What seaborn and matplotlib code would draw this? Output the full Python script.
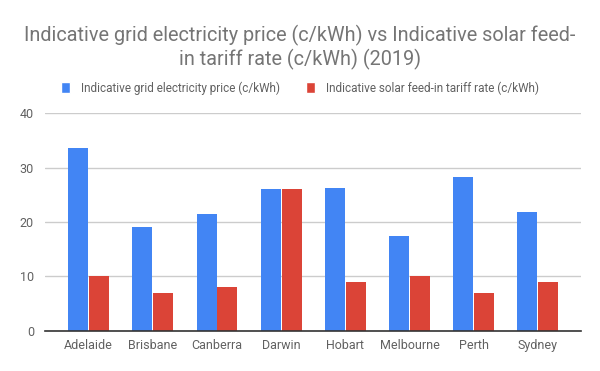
import matplotlib
matplotlib.use("Agg")
import matplotlib.pyplot as plt
import seaborn as sns
import pandas as pd
from matplotlib.patches import Patch

cities = ["Adelaide", "Brisbane", "Canberra", "Darwin", "Hobart", "Melbourne", "Perth", "Sydney"]
grid_price = [33.6, 19.1, 21.5, 26.0, 26.3, 17.5, 28.3, 21.9]
feed_in = [10.0, 7.0, 8.0, 26.0, 9.0, 10.0, 7.0, 9.0]
series_names = ["Indicative grid electricity price (c/kWh)", "Indicative solar feed-in tariff rate (c/kWh)"]
title = "Indicative grid electricity price (c/kWh) vs Indicative solar feed-\nin tariff rate (c/kWh) (2019)"

df = pd.DataFrame({
    "city": cities * 2,
    "value": grid_price + feed_in,
    "series": [series_names[0]] * len(cities) + [series_names[1]] * len(cities),
})

sns.set_theme(style="white")
plt.rcParams["font.family"] = ["Roboto", "DejaVu Sans"]

fig = plt.figure(figsize=(6, 3.71), dpi=100)
ax = fig.add_axes([0.075, 0.108, 0.893, 0.587])
sns.barplot(data=df, x="city", y="value", hue="series", order=cities, hue_order=series_names,
            palette=["#4285F4", "#DB4437"], width=0.65, gap=0.04, saturation=1, ax=ax, legend=False,
            edgecolor="none")

ax.set_xlim(-0.68, 7.67)
ax.set_ylim(0, 40)
ax.set_yticks([0, 10, 20, 30, 40])
ax.yaxis.grid(True, color="#cccccc", linewidth=1)
ax.set_axisbelow(True)
for s in ["top", "right", "left"]:
    ax.spines[s].set_visible(False)
ax.spines["bottom"].set_color("#333333")
ax.spines["bottom"].set_linewidth(1.2)
ax.set_xlabel("")
ax.set_ylabel("")
ax.tick_params(axis="both", length=0, labelsize=9, labelcolor="#616161")
ax.tick_params(axis="y", pad=8)
ax.tick_params(axis="x", pad=6)

fig.text(0.5, 0.872, title, ha="center", va="center", fontsize=14.3, color="#757575",
         linespacing=1.2)

handles = [Patch(facecolor="#4285F4"), Patch(facecolor="#DB4437")]
fig.legend(handles, series_names, loc="center", bbox_to_anchor=(0.5, 0.763), ncol=2, frameon=False,
           fontsize=8.5, labelcolor="#616161", handlelength=0.8, handleheight=1.0,
           columnspacing=2.2, handletextpad=0.9)

fig.savefig("out.png", dpi=100)
